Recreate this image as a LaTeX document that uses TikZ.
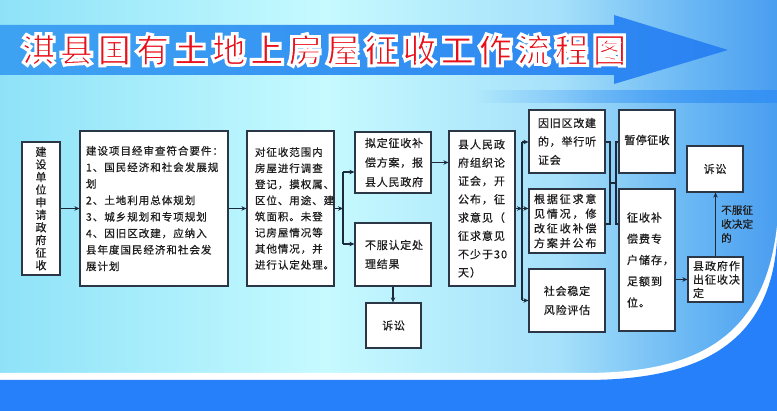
\documentclass[tikz,border=0pt]{standalone}
\usepackage{fontspec}
\newfontfamily\cjk{Noto Sans CJK SC}
\usetikzlibrary{arrows.meta,fadings}
\definecolor{bg0}{HTML}{8EE2F8}
\definecolor{bg1}{HTML}{C6FAFF}
\definecolor{bg2}{HTML}{A6E0FA}
\definecolor{bg3}{HTML}{6CB9F4}
\definecolor{bg4}{HTML}{4A9EF0}
\definecolor{botblue}{HTML}{2680FA}
\definecolor{arL}{HTML}{3EA2F2}
\definecolor{arR}{HTML}{2A82F2}
\definecolor{bandblue}{HTML}{3592F4}
\definecolor{bd}{HTML}{2B3646}
\definecolor{ln}{HTML}{1C2B3C}
\definecolor{tx}{HTML}{1E1E1E}
\definecolor{titred}{HTML}{E8101A}
\pgfdeclarehorizontalshading{bgsh}{100bp}{color(0bp)=(bg0); color(25bp)=(bg0); color(46bp)=(bg1); color(61bp)=(bg2); color(69bp)=(bg3); color(75bp)=(bg4); color(100bp)=(bg4)}
\tikzfading[name=fadein, left color=transparent!100, right color=transparent!0]
\newcommand{\fs}[3]{\cjk\fontsize{#1}{#2}\selectfont\addfontfeature{LetterSpace=#3,FakeBold=0.6}}
\begin{document}
\begin{tikzpicture}[x=1pt,y=-1pt,
  box/.style={draw=bd, line width=1.2pt, fill=white, text=tx, inner ysep=0pt},
  lbox/.style={box, align=left},
  cbox/.style={box, align=center},
  arr/.style={draw=ln, line width=1.1pt, -{Stealth[length=5pt,width=4.5pt]}},
  con/.style={draw=ln, line width=1.1pt},
  lbl/.style={text=tx, inner sep=0pt, align=left},
  ttl/.style={text=titred, inner sep=0pt}
]
\useasboundingbox (0,0) rectangle (777,411);
% background
\shade[shading=bgsh] (0,0) rectangle (777,411);
\fill[bandblue, path fading=fadein] (475,90) rectangle (777,103);
\shade[left color=arL, right color=arR] (0,25) -- (614,25) -- (614,15) -- (728,50) -- (614,84) -- (614,75) -- (0,75) -- cycle;
\fill[white] (0,373) -- (583,373) .. controls (690,373) and (764,343) .. (777,226) -- (777,411) -- (0,411) -- cycle;
\fill[botblue] (0,380) -- (585,380) .. controls (690,380) and (770,350) .. (777,240) -- (777,411) -- (0,411) -- cycle;
% title
\node[ttl, font={\cjk\bfseries\fontsize{34}{36}\selectfont\addfontfeature{LetterSpace=12}}] (title) at (324,50)
  {\special{pdf:literal direct 2 Tr 3 w 1 1 1 RG}淇县国有土地上房屋征收工作流程图\special{pdf:literal direct 0 Tr}};
% boxes
\node[cbox, minimum width=38pt, minimum height=133pt, text width=38pt, inner xsep=0pt, font=\fs{11}{12.6}{0}] (b1) at (41,208.5)
  {建\\设\\单\\位\\申\\请\\政\\府\\征\\收};
\node[lbox, minimum width=148pt, minimum height=155pt, text width=136pt, inner xsep=6pt, font=\fs{10.5}{16.5}{9.5}] (b2) at (154,208.5)
  {建设项目经审查符合要件：\\1、国民经济和社会发展规\\划\\2、土地利用总体规划\\3、城乡规划和专项规划\\4、因旧区改建，应纳入\\县年度国民经济和社会发\\展计划};
\node[lbox, minimum width=87pt, minimum height=155pt, text width=71pt, inner xsep=8pt, font=\fs{10.5}{16.1}{9}] (b3) at (290.5,208.5)
  {对征收范围内\\房屋进行调查\\登记，摸权属、\\区位、用途、建\\筑面积。未登\\记房屋情况等\\其他情况，并\\进行认定处理。};
\node[lbox, minimum width=76pt, minimum height=61pt, text width=56pt, inner xsep=10pt, font=\fs{11}{19.5}{7}] (b4a) at (393,162.5)
  {拟定征收补\\偿方案，报\\县人民政府};
\node[lbox, minimum width=76pt, minimum height=63pt, text width=56pt, inner xsep=10pt, font=\fs{11}{19}{7}] (b4b) at (393,254.5)
  {不服认定处\\理结果};
\node[cbox, minimum width=55pt, minimum height=45pt, font=\fs{11}{13}{5}] (su1) at (393.5,325.5) {诉讼};
\node[lbox, minimum width=66pt, minimum height=155pt, text width=48pt, inner xsep=9pt, font=\fs{11}{18.3}{9}] (b5) at (482,208.5)
  {县人民政\\府组织论\\证会，开\\公布，征\\求意见（\\征求意见\\不少于30\\天）};
\node[lbox, minimum width=76pt, minimum height=63pt, text width=58pt, inner xsep=9pt, font=\fs{11}{18.5}{7}] (b6a) at (567,141.5)
  {因旧区改建\\的，举行听\\证会};
\node[lbox, minimum width=76pt, minimum height=64pt, text width=66pt, inner xsep=5pt, font=\fs{11}{14.7}{17}] (b6b) at (567,221)
  {根据征求意\\见情况，修\\改征收补偿\\方案并公布};
\node[cbox, minimum width=76pt, minimum height=63pt, font=\fs{11}{19}{7}] (b6c) at (567,300.5)
  {社会稳定\\风险评估};
\node[cbox, minimum width=56pt, minimum height=63pt, font=\fs{11}{13}{4}] (b7a) at (647,141.5)
  {\raisebox{4pt}{暂停征收}};
\node[lbox, minimum width=56pt, minimum height=142pt, text width=40pt, inner xsep=8pt, font=\fs{11}{21.25}{9}] (b7b) at (647,260)
  {征收补\\偿费专\\户储存，\\足额到\\位。};
\node[cbox, minimum width=56pt, minimum height=46pt, font=\fs{11}{13}{5}] (su2) at (715,169) {诉讼};
\node[lbox, minimum width=55pt, minimum height=45pt, text width=45pt, inner xsep=5pt, font=\fs{11}{13.5}{9}] (b8) at (715.5,279.5)
  {县政府作\\出征收决\\定};
\node[lbl, anchor=north west, font=\fs{10.5}{14}{2}] (lab) at (721,205) {不服征\\收决定\\的};
% connectors
\draw[arr] (b1.east) -- (b1.east -| b2.west);
\draw[arr] (b2.east) -- (b2.east -| b3.west);
\coordinate (j1) at (343,208.5);
\coordinate (j1t) at (343,172);
\coordinate (j1b) at (343,244);
\draw[arr] (b3.east) -- (j1);
\draw[con] (j1t) -- (j1b);
\draw[arr] (j1t) -- (j1t -| b4a.west);
\draw[arr] (j1b) -- (j1b -| b4b.west);
\draw[arr] (b4a.east) -- (b4a.east -| b5.west);
\draw[arr] (b4b.south) -- (b4b.south |- su1.north);
\coordinate (j2) at (522,208.5);
\coordinate (j2t) at (522,142);
\coordinate (j2b) at (522,300.5);
\draw[arr] (b5.east) -- (j2);
\draw[con] (j2t) -- (j2b);
\draw[arr] (j2t) -- (j2t -| b6a.west);
\draw[arr] (j2) -- (j2 -| b6b.west);
\draw[arr] (j2b) -- (j2b -| b6c.west);
\coordinate (k1t) at (610,142);
\coordinate (k1b) at (610,224);
\coordinate (k1m) at (610,183);
\coordinate (k2t) at (616,142);
\coordinate (k2b) at (616,224);
\coordinate (k2m) at (616,183);
\draw[con] (k1t -| b6a.east) -- (k1t) -- (k1b) -- (k1b -| b6b.east);
\draw[con] (k1m) -- (k2m);
\draw[con] (k2t -| b7a.west) -- (k2t) -- (k2b) -- (k2b -| b7b.west);
\draw[arr] (b7b.east |- b8.west) -- (b8.west);
\draw[arr] (b8.north) -- (b8.north |- su2.south);
\end{tikzpicture}
\end{document}
